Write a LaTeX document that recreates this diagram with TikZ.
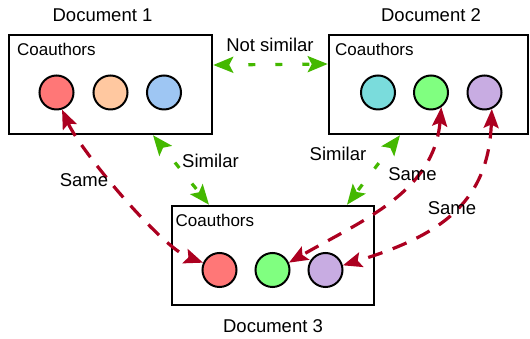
\documentclass[tikz,border=0pt]{standalone}
\usepackage{fontspec}
\setmainfont{Liberation Sans}
\usetikzlibrary{arrows.meta}
\definecolor{samered}{RGB}{172,0,32}
\definecolor{simgreen}{RGB}{68,184,0}
\definecolor{fred}{RGB}{255,119,119}
\definecolor{fpeach}{RGB}{255,200,160}
\definecolor{fblue}{RGB}{158,198,243}
\definecolor{fcyan}{RGB}{122,220,220}
\definecolor{fgreen}{RGB}{128,255,128}
\definecolor{fpurple}{RGB}{200,172,226}
\tikzset{
  docbox/.style={draw=black, line width=2.5pt, rectangle, minimum height=99pt, inner sep=0pt},
  author/.style={draw=black, line width=2pt, circle, minimum size=34pt, inner sep=0pt},
  lbl/.style={font=\fontsize{18.5}{22}\selectfont, inner sep=0pt, anchor=base},
  colbl/.style={font=\fontsize{17}{20}\selectfont, inner sep=0pt, anchor=base west},
  simarrow/.style={draw=simgreen, line width=3.2pt, dash pattern=on 7pt off 20pt, dash phase=7pt,
     {Stealth[length=20pt,width=16pt,inset=4pt]}-{Stealth[length=20pt,width=16pt,inset=4pt]}},
  samearrow/.style={draw=samered, line width=3.2pt, dash pattern=on 15pt off 11pt,
     {Stealth[length=19pt,width=15pt,inset=3.5pt]}-{Stealth[length=19pt,width=15pt,inset=3.5pt]}}
}
\begin{document}
\begin{tikzpicture}[x=1pt,y=1pt]
\useasboundingbox (0,0) rectangle (530,339);
% boxes
\node[docbox, minimum width=203pt] (b1) at (110.5,254.5) {};
\node[docbox, minimum width=199pt] (b2) at (428.5,254.5) {};
\node[docbox, minimum width=202pt] (b3) at (273,83.5) {};
% titles
\node[lbl] (t1) at (102.5,317.3) {Document 1};
\node[lbl] (t2) at (431,317.3) {Document 2};
\node[lbl] (t3) at (273,6) {Document 3};
\node[colbl] (k1) at (17,283) {Coauthors};
\node[colbl] (k2) at (335,283) {Coauthors};
\node[colbl] (k3) at (175.5,112) {Coauthors};
% circles
\node[author, fill=fred] (c1a) at (56.5,246.5) {};
\node[author, fill=fpeach] (c1b) at (110.5,246.5) {};
\node[author, fill=fblue] (c1c) at (164,246.5) {};
\node[author, fill=fcyan] (c2a) at (378,246.5) {};
\node[author, fill=fgreen] (c2b) at (431,246.5) {};
\node[author, fill=fpurple] (c2c) at (484.5,246.5) {};
\node[author, fill=fred] (c3a) at (219.5,69) {};
\node[author, fill=fgreen] (c3b) at (272.5,69) {};
\node[author, fill=fpurple] (c3c) at (325.5,69) {};
% green arrows
\draw[simarrow] ([yshift=19.5pt]b1.east) -- ([yshift=20.5pt]b2.west);
\draw[simarrow] ([xshift=42.5pt]b1.south) -- ([xshift=-64pt]b3.north);
\draw[simarrow] ([xshift=-28.5pt]b2.south) -- ([xshift=74pt]b3.north);
% red arrows
\draw[samearrow] (c1a.-72) to[out=-66,in=160,looseness=0.55] (c3a.156);
\draw[samearrow] (c2b.-55) to[out=-95,in=30] (c3b.24);
\draw[samearrow] (c2c.-66) to[out=-92,in=17,looseness=1.15] (c3c.15);
% labels
\node[lbl] (ns) at (270,287) {Not similar};
\node[lbl] (s1) at (210.5,171) {Similar};
\node[lbl] (s2) at (338,178) {Similar};
\node[lbl] (m1) at (84,152) {Same};
\node[lbl] (m2) at (412.5,158) {Same};
\node[lbl] (m3) at (452,124) {Same};
\end{tikzpicture}
\end{document}
